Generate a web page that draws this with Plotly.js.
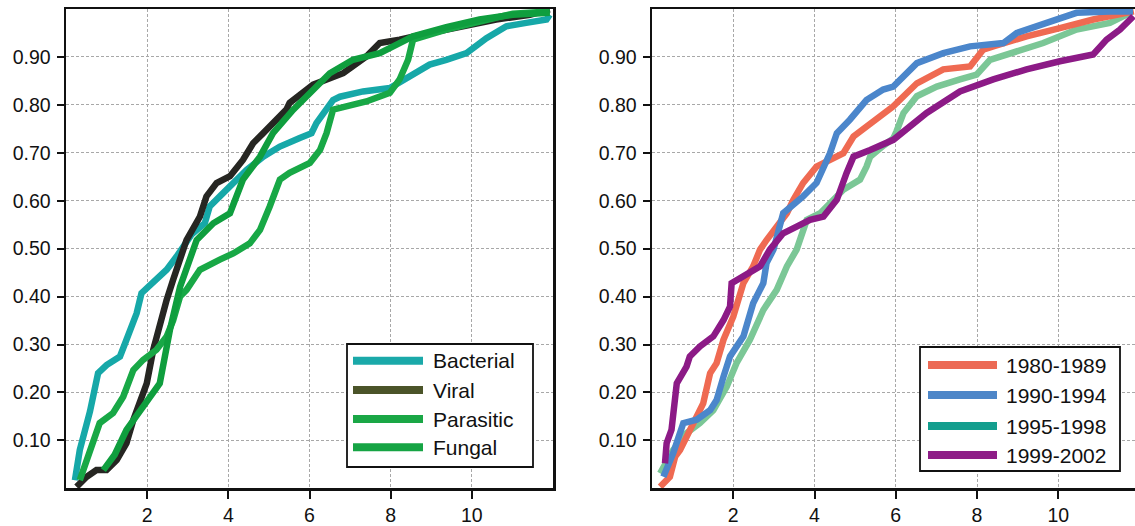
<!DOCTYPE html>
<html>
<head>
<meta charset="utf-8">
<script src="https://cdn.plot.ly/plotly-3.0.1.min.js"></script>
<style>html,body{margin:0;padding:0;background:#fff;}#chart{width:1135px;height:526px;}</style>
</head>
<body>
<div id="chart"></div>
<script>
// ---- Left panel: infection type ----
const bacterialX = [0.22,0.34,0.59,0.79,1.0,1.33,1.49,1.74,1.86,2.15,2.48,2.72,2.85,3.1,3.42,3.54,3.79,4.12,4.45,4.86,5.27,5.76,6.05,6.17,6.33,6.58,6.75,7.32,7.98,8.55,8.96,9.37,9.87,10.36,10.85,11.34,11.84,11.92];
const bacterialY = [0.017,0.08,0.16,0.24,0.257,0.275,0.31,0.365,0.407,0.428,0.456,0.483,0.50,0.53,0.553,0.588,0.609,0.637,0.664,0.692,0.713,0.731,0.741,0.762,0.783,0.81,0.817,0.828,0.835,0.863,0.884,0.894,0.908,0.939,0.964,0.971,0.978,0.988];

const viralX = [0.26,0.51,0.75,1.0,1.25,1.49,1.66,1.82,1.99,2.15,2.31,2.48,2.64,2.85,2.97,3.30,3.46,3.71,4.04,4.36,4.61,4.86,5.19,5.43,5.51,6.09,6.83,7.40,7.73,8.22,8.96,9.78,10.6,11.43,11.92];
const viralY = [0.003,0.024,0.038,0.038,0.059,0.094,0.143,0.184,0.219,0.289,0.344,0.393,0.435,0.483,0.518,0.567,0.609,0.637,0.651,0.685,0.720,0.741,0.769,0.79,0.804,0.842,0.866,0.901,0.929,0.936,0.95,0.964,0.978,0.988,0.999];

const parasiticX = [0.34,0.59,0.83,1.16,1.41,1.66,1.90,2.23,2.48,2.64,2.81,2.97,3.30,3.79,4.12,4.53,4.78,5.02,5.27,5.51,6.01,6.26,6.42,6.58,6.91,7.40,7.98,8.22,8.43,8.55,9.37,10.19,11.01,11.92];
const parasiticY = [0.017,0.08,0.136,0.157,0.191,0.247,0.268,0.289,0.317,0.35,0.40,0.414,0.456,0.477,0.49,0.511,0.539,0.588,0.644,0.658,0.679,0.706,0.741,0.79,0.797,0.807,0.825,0.853,0.894,0.936,0.957,0.975,0.99,0.995];

const fungalX = [0.92,1.2,1.49,1.90,2.31,2.56,2.81,3.22,3.63,4.04,4.36,4.78,5.10,5.6,6.09,6.5,7.07,7.73,8.22,8.55,9.37,10.19,11.01,11.92];
const fungalY = [0.038,0.07,0.122,0.17,0.219,0.33,0.42,0.518,0.553,0.574,0.644,0.692,0.741,0.79,0.83,0.866,0.894,0.908,0.929,0.943,0.962,0.978,0.988,0.992];

// ---- Right panel: period ----
const p8089X = [0.2,0.44,0.57,0.69,1.26,1.43,1.59,1.76,2.0,2.25,2.49,2.66,2.82,3.07,3.32,3.48,3.72,4.05,4.38,4.71,4.96,5.37,5.94,6.52,7.17,7.83,8.15,8.40,9.22,10.04,10.86,11.68,11.86];
const p8089Y = [0.003,0.024,0.066,0.08,0.177,0.24,0.261,0.31,0.358,0.428,0.463,0.498,0.518,0.546,0.574,0.602,0.637,0.671,0.685,0.699,0.734,0.762,0.797,0.845,0.874,0.88,0.915,0.922,0.943,0.96,0.978,0.992,0.995];

const p9094X = [0.28,0.52,0.77,1.10,1.43,1.59,1.76,1.92,2.25,2.49,2.74,2.82,2.99,3.23,3.72,4.05,4.38,4.55,4.87,5.28,5.69,5.94,6.52,7.17,7.83,8.65,8.98,9.72,10.45,11.27,11.84];
const p9094Y = [0.024,0.073,0.136,0.143,0.163,0.184,0.233,0.275,0.317,0.386,0.428,0.47,0.498,0.574,0.609,0.637,0.699,0.741,0.769,0.81,0.832,0.838,0.887,0.908,0.922,0.929,0.95,0.971,0.992,0.995,0.995];

const p9598X = [0.2,0.52,0.85,1.18,1.51,1.84,2.08,2.41,2.74,3.07,3.32,3.56,3.81,3.97,4.14,4.71,5.12,5.28,5.37,5.7,5.94,6.02,6.19,6.52,7.01,7.58,7.99,8.32,8.81,9.63,10.45,11.27,11.77];
const p9598Y = [0.031,0.08,0.115,0.136,0.163,0.212,0.261,0.31,0.372,0.414,0.463,0.498,0.56,0.567,0.574,0.623,0.644,0.671,0.692,0.715,0.73,0.745,0.783,0.818,0.838,0.853,0.863,0.894,0.908,0.929,0.957,0.971,0.992];

const p9902X = [0.32,0.36,0.48,0.61,0.85,0.93,1.18,1.51,1.76,1.92,1.96,2.25,2.66,2.90,3.23,3.56,3.89,4.22,4.55,4.79,4.96,5.37,5.94,6.76,7.58,8.40,9.22,10.04,10.86,11.19,11.52,11.85];
const p9902Y = [0.052,0.094,0.122,0.219,0.254,0.275,0.296,0.317,0.351,0.379,0.428,0.442,0.463,0.498,0.532,0.546,0.56,0.567,0.602,0.658,0.692,0.706,0.727,0.783,0.828,0.853,0.874,0.891,0.905,0.936,0.957,0.985];

const leftNames = ['Bacterial','Viral','Parasitic','Fungal'];
const leftColors = ['#16a8a8','#262622','#18a846','#0f9e3e'];
const leftLegendColors = ['#1aa9a9','#4b5429','#1aa746','#16a444'];
const rightNames = ['1980-1989','1990-1994','1995-1998','1999-2002'];
const rightColors = ['#ef6a52','#4b86cb','#7bc796','#8c1a86'];
const rightLegendColors = ['#ec6a55','#4d86c8','#139e8e','#8e1d87'];

const yTicks = [0.1,0.2,0.3,0.4,0.5,0.6,0.7,0.8,0.9];
const xTicks = [2,4,6,8,10];

const W = 1135, H = 526;
const px = v => v / W;
const py = v => 1 - v / H;

function tr(x, y, name, color, xa, ya) {
  return {x: x, y: y, name: name, type: 'scatter', mode: 'lines', xaxis: xa, yaxis: ya,
          line: {color: color, width: 6.5, shape: 'linear'}, showlegend: false, hoverinfo: 'skip'};
}

const data = [
  tr(bacterialX, bacterialY, leftNames[0], leftColors[0], 'x', 'y'),
  tr(viralX, viralY, leftNames[1], leftColors[1], 'x', 'y'),
  tr(parasiticX, parasiticY, leftNames[2], leftColors[2], 'x', 'y'),
  tr(fungalX, fungalY, leftNames[3], leftColors[3], 'x', 'y'),
  tr(p9598X, p9598Y, rightNames[2], rightColors[2], 'x2', 'y2'),
  tr(p8089X, p8089Y, rightNames[0], rightColors[0], 'x2', 'y2'),
  tr(p9094X, p9094Y, rightNames[1], rightColors[1], 'x2', 'y2'),
  tr(p9902X, p9902Y, rightNames[3], rightColors[3], 'x2', 'y2')
];

const fam = 'Liberation Sans, Arial, Helvetica, sans-serif';
const tickFont = {family: fam, size: 19.5, color: '#111'};
const legendFont = {family: fam, size: 21, color: '#111'};
const grid = {showgrid: true, gridcolor: '#a8a8a8', gridwidth: 1, griddash: '3px,2px'};
function xAxis(domain, range, anchor) {
  return Object.assign({domain: domain, range: range, anchor: anchor, tickvals: xTicks, ticktext: xTicks.map(String),
    showline: true, mirror: true, linecolor: '#111', linewidth: 2.5, ticks: 'outside', ticklen: 8, tickwidth: 2,
    tickcolor: '#111', zeroline: false, tickfont: tickFont, ticklabelstandoff: 0, fixedrange: true}, grid);
}
function yAxis(domain, anchor) {
  return Object.assign({domain: domain, range: [0, 1], anchor: anchor, tickvals: yTicks, ticktext: yTicks.map(v => v.toFixed(2)),
    showline: true, mirror: true, linecolor: '#111', linewidth: 2.5, ticks: 'outside', ticklen: 7, tickwidth: 2,
    tickcolor: '#111', zeroline: false, tickfont: tickFont, ticklabelstandoff: 2, fixedrange: true}, grid);
}

const yDom = [1 - 488.3 / H, 1 - 9 / H];
const shapes = [];
const annotations = [];

function legend(box, names, colors, lineX0, lineX1, textX, rowsY) {
  shapes.push({type: 'rect', xref: 'paper', yref: 'paper', x0: px(box[0]), x1: px(box[1]), y0: py(box[3]), y1: py(box[2]),
    line: {color: '#111', width: 1.8}, fillcolor: '#fff', layer: 'above'});
  names.forEach((n, i) => {
    shapes.push({type: 'line', xref: 'paper', yref: 'paper', x0: px(lineX0), x1: px(lineX1), y0: py(rowsY[i]), y1: py(rowsY[i]),
      line: {color: colors[i], width: 8}, layer: 'above'});
    annotations.push({xref: 'paper', yref: 'paper', x: px(textX), y: py(rowsY[i]), xanchor: 'left', yanchor: 'middle',
      text: n, showarrow: false, font: legendFont});
  });
}
legend([347, 533, 344, 467], leftNames, leftLegendColors, 353, 423, 431, [360.7, 390, 419, 447.3]);
legend([920, 1120, 347, 471], rightNames, rightLegendColors, 928, 997, 1004, [365, 395, 426, 455]);

const layout = {
  width: W, height: H, margin: {l: 0, r: 0, t: 0, b: 0}, paper_bgcolor: '#fff', plot_bgcolor: '#fff',
  font: tickFont, showlegend: false,
  xaxis: xAxis([66 / W, 553 / W], [0, 12], 'y'),
  yaxis: yAxis(yDom, 'x'),
  xaxis2: xAxis([652 / W, 1], [0, (W - 652) / 40.625], 'y2'),
  yaxis2: yAxis(yDom, 'x2'),
  shapes: shapes, annotations: annotations
};

Plotly.newPlot('chart', data, layout, {staticPlot: true, displayModeBar: false});
</script>
</body>
</html>
